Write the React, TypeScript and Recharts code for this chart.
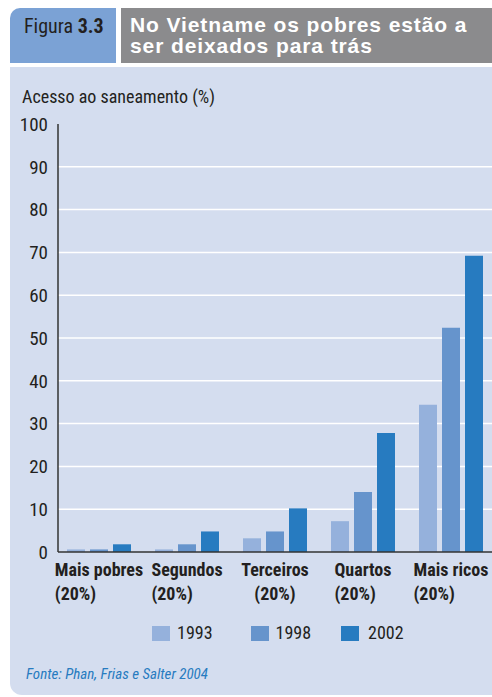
import React from "react";
import { BarChart, Bar, XAxis, YAxis, CartesianGrid } from "recharts";

const categories = ["Mais pobres", "Segundos", "Terceiros", "Quartos", "Mais ricos"];
const categorySub = ["(20%)", "(20%)", "(20%)", "(20%)", "(20%)"];
const years = ["1993", "1998", "2002"];
const v1993 = [0.6, 0.6, 3.2, 7.2, 34.4];
const v1998 = [0.6, 1.8, 4.8, 14.0, 52.4];
const v2002 = [1.8, 4.8, 10.2, 27.8, 69.2];
const yTicks = [0, 10, 20, 30, 40, 50, 60, 70, 80, 90, 100];
const gridValues = [10, 20, 30, 40, 50, 60, 70, 80, 90];
const colors = ["#95b1dc", "#6694cc", "#277bc0"];
const centeredSecondLine = ["Terceiros"];

const data = categories.map((c, i) => ({
  name: c,
  sub: categorySub[i],
  y1993: v1993[i],
  y1998: v1998[i],
  y2002: v2002[i],
}));

const NARROW = "'Liberation Sans Narrow', 'Roboto Condensed', 'Liberation Sans', Arial, sans-serif";
const SANS = "'Liberation Sans', Arial, Helvetica, sans-serif";

let ctx: CanvasRenderingContext2D | null = null;
function measure(text: string, font: string) {
  if (!ctx) {
    const c = document.createElement("canvas");
    ctx = c.getContext("2d");
  }
  if (!ctx) return text.length * 8;
  ctx.font = font;
  return ctx.measureText(text).width;
}

const CatTick = (props: any) => {
  const { x, y, payload, index } = props;
  const name = payload.value as string;
  const sub = categorySub[index] ?? "(20%)";
  const w = measure(name, `bold 18px ${NARROW}`);
  const centered = centeredSecondLine.includes(name);
  return (
    <g>
      <text x={x} y={y + 16} textAnchor="middle" fontFamily={NARROW} fontWeight="bold" fontSize={18} fill="#231f20">
        {name}
      </text>
      <text
        x={centered ? x : x - w / 2}
        y={y + 40}
        textAnchor={centered ? "middle" : "start"}
        fontFamily={NARROW}
        fontWeight="bold"
        fontSize={18}
        fill="#231f20"
      >
        {sub}
      </text>
    </g>
  );
};

export default function App() {
  return (
    <div
      style={{
        position: "absolute",
        left: 0,
        top: 0,
        width: 492,
        height: 697,
        overflow: "hidden",
        background: "#ffffff",
      }}
    >
      {/* header */}
      <div
        style={{
          position: "absolute",
          left: 10,
          top: 8,
          width: 106,
          height: 55,
          background: "#7ba2d5",
          borderTopLeftRadius: 10,
        }}
      />
      <div
        style={{
          position: "absolute",
          left: 24,
          top: 14,
          fontFamily: NARROW,
          fontSize: 20,
          color: "#231f20",
          whiteSpace: "nowrap",
          lineHeight: "24px",
        }}
      >
        Figura <b>3.3</b>
      </div>
      <div
        style={{
          position: "absolute",
          left: 121,
          top: 8,
          width: 371,
          height: 55,
          background: "#8b8b8d",
        }}
      />
      <div
        style={{
          position: "absolute",
          left: 130,
          top: 14,
          fontFamily: SANS,
          fontWeight: "bold",
          fontSize: 21,
          letterSpacing: 0.9,
          lineHeight: "21px",
          color: "#ffffff",
          whiteSpace: "nowrap",
        }}
      >
        <div>No Vietname os pobres estão a</div>
        <div>ser deixados para trás</div>
      </div>
      {/* panel */}
      <div
        style={{
          position: "absolute",
          left: 10,
          top: 67,
          width: 482,
          height: 628,
          background: "#d4ddef",
          borderBottomLeftRadius: 12,
        }}
      />
      <div
        style={{
          position: "absolute",
          left: 22,
          top: 86,
          fontFamily: NARROW,
          fontSize: 18,
          color: "#231f20",
          whiteSpace: "nowrap",
          lineHeight: "22px",
        }}
      >
        Acesso ao saneamento (%)
      </div>
      <div style={{ position: "absolute", left: 0, top: 0 }}>
        <BarChart
          width={500}
          height={620}
          data={data}
          margin={{ top: 124, right: 5, left: 0, bottom: 0 }}
          barSize={18}
          barGap={5}
        >
          <CartesianGrid
            vertical={false}
            horizontalValues={gridValues}
            stroke="#ffffff"
            strokeWidth={1.5}
          />
          <XAxis
            dataKey="name"
            height={68}
            padding={{ left: -3, right: 0 }}
            axisLine={{ stroke: "#333333", strokeWidth: 1.5 }}
            tickLine={false}
            interval={0}
            tick={<CatTick />}
          />
          <YAxis
            width={58}
            domain={[0, 100]}
            ticks={yTicks}
            interval={0}
            axisLine={{ stroke: "#333333", strokeWidth: 1.5 }}
            tickLine={false}
            tickSize={0}
            tickMargin={10}
            tick={{ fontFamily: NARROW, fontSize: 19, fill: "#231f20" }}
          />
          <Bar dataKey="y1993" fill={colors[0]} isAnimationActive={false} />
          <Bar dataKey="y1998" fill={colors[1]} isAnimationActive={false} />
          <Bar dataKey="y2002" fill={colors[2]} isAnimationActive={false} />
        </BarChart>
      </div>
      {/* legend */}
      <div
        style={{
          position: "absolute",
          left: 152,
          top: 622,
          display: "flex",
          alignItems: "center",
          fontFamily: NARROW,
          fontSize: 18,
          color: "#231f20",
          lineHeight: "22px",
        }}
      >
        {years.map((y, i) => (
          <div key={y} style={{ display: "flex", alignItems: "center", marginRight: i === 0 ? 38 : 30 }}>
            <div style={{ width: 18, height: 15, background: colors[i], marginRight: i === 2 ? 9 : 7 }} />
            <span>{y}</span>
          </div>
        ))}
      </div>
      <div
        style={{
          position: "absolute",
          left: 26,
          top: 665,
          fontFamily: NARROW,
          fontStyle: "italic",
          fontSize: 15,
          color: "#277bc0",
          whiteSpace: "nowrap",
          lineHeight: "18px",
        }}
      >
        Fonte: Phan, Frias e Salter 2004
      </div>
    </div>
  );
}
